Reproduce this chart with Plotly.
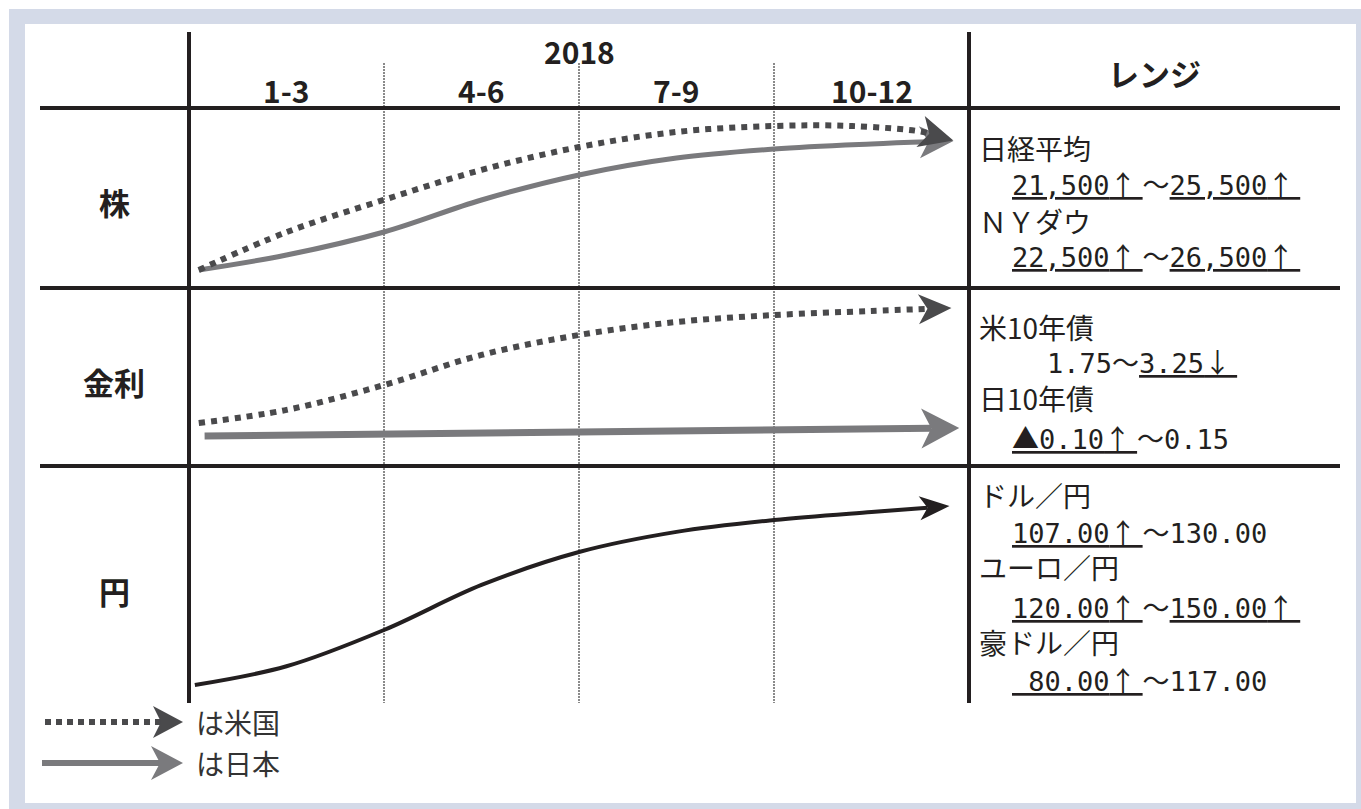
import plotly.graph_objects as go

W, H = 1361, 809

# ---------------- data ----------------
year = "2018"
quarters = ["1-3", "4-6", "7-9", "10-12"]
rows = ["株", "金利", "円"]
range_title = "レンジ"

# x = position in quarters of 2018 (0 = start of Jan, 4 = end of Dec)
# y = relative level inside each row (0 = bottom of row, 100 = top)
x_us_stock = [0.05, 0.5, 1.0, 1.5, 2.0, 2.5, 3.0, 3.4, 3.75, 3.92]
y_us_stock = [10, 31, 49, 65.6, 78.3, 86.7, 90, 90, 87, 82]

x_jp_stock = [0.05, 0.5, 1.0, 1.5, 2.0, 2.5, 3.0, 3.5, 3.92]
y_jp_stock = [10, 18.3, 31.1, 48.9, 62.8, 72.2, 77.2, 80, 81.7]

x_us_rate = [0.05, 0.5, 1.0, 1.5, 2.0, 2.5, 3.0, 3.5, 3.91]
y_us_rate = [24.2, 31.5, 45.5, 62.4, 73.6, 80.9, 84.8, 87.1, 88.8]

x_jp_rate = [0.08, 2.0, 3.95]
y_jp_rate = [16.9, 19.1, 21.3]

x_yen = [0.03, 0.5, 1.0, 1.5, 2.0, 2.5, 3.0, 3.5, 3.9]
y_yen = [7.6, 15.5, 30.8, 49.8, 63.7, 72.2, 77.2, 80.6, 83.1]

range_labels = ["日経平均", "ＮＹダウ", "米10年債", "日10年債",
                "ドル／円", "ユーロ／円", "豪ドル／円"]
range_values = [
    "<u>21,500↑\u00a0</u>～<u>25,500↑\u00a0</u>",
    "<u>22,500↑\u00a0</u>～<u>26,500↑\u00a0</u>",
    "1.75～<u>3.25↓\u00a0</u>",
    "<u>▲0.10↑\u00a0</u>～0.15",
    "<u>107.00↑\u00a0</u>～130.00",
    "<u>120.00↑\u00a0</u>～<u>150.00↑\u00a0</u>",
    "<u>\u00a080.00↑\u00a0</u>～117.00",
]
legend_labels = ["は米国", "は日本"]

# ---------------- layout geometry (pixels) ----------------
X0_PX, Q_PX = 189, 195          # pixel of x=0 and pixels per quarter
row_bounds = [(108, 288), (288, 466), (466, 703)]
INK = "#231f20"
US_COL = "#4a4a4c"
JP_COL = "#7a7a7d"


def xp(px):
    return px / W


def yp(py):
    return 1 - py / H


def to_px(x, y, r):
    top, bot = row_bounds[r]
    return X0_PX + Q_PX * x, bot - y / 100 * (bot - top)


def from_px(px, py, r):
    top, bot = row_bounds[r]
    return (px - X0_PX) / Q_PX, (bot - py) / (bot - top) * 100


fig = go.Figure()

ynames = ["y", "y2", "y3"]


def arrow_curve(xs, ys, r, color, width, dash, L, Hh, N):
    ax, ay = to_px(xs[-2], ys[-2], r)
    tx, ty = to_px(xs[-1], ys[-1], r)
    dx, dy = tx - ax, ty - ay
    n = (dx * dx + dy * dy) ** 0.5
    dx, dy = dx / n, dy / n
    nx, ny = -dy, dx
    ex, ey = from_px(tx - (L - N) * dx, ty - (L - N) * dy, r)
    lx = list(xs[:-1]) + [ex]
    ly = list(ys[:-1]) + [ey]
    fig.add_trace(go.Scatter(
        x=lx, y=ly, mode="lines", yaxis=ynames[r], hoverinfo="skip",
        line=dict(color=color, width=width, dash=dash, shape="spline",
                  smoothing=1.0),
        showlegend=False))
    pts = [
        (tx, ty),
        (tx - L * dx + Hh * nx, ty - L * dy + Hh * ny),
        (tx - (L - N) * dx, ty - (L - N) * dy),
        (tx - L * dx - Hh * nx, ty - L * dy - Hh * ny),
        (tx, ty),
    ]
    cx, cy = zip(*[from_px(p[0], p[1], r) for p in pts])
    fig.add_trace(go.Scatter(
        x=list(cx), y=list(cy), mode="lines", fill="toself",
        fillcolor=color, line=dict(width=0, color=color),
        yaxis=ynames[r], hoverinfo="skip", showlegend=False))


arrow_curve(x_jp_stock, y_jp_stock, 0, JP_COL, 5, None, 34, 16, 9)
arrow_curve(x_us_stock, y_us_stock, 0, US_COL, 6, "6px,6px", 34, 16, 9)
arrow_curve(x_us_rate, y_us_rate, 1, US_COL, 6, "6px,6px", 33, 15, 9)
arrow_curve(x_jp_rate, y_jp_rate, 1, JP_COL, 7, None, 38, 20, 10)
arrow_curve(x_yen, y_yen, 2, INK, 4, None, 30, 12, 8)

# ---------------- shapes ----------------
shapes = []
shapes.append(dict(type="rect", xref="paper", yref="paper", layer="below",
                   x0=xp(9), x1=xp(1361), y0=yp(809), y1=yp(9),
                   fillcolor="#d4dae8", line=dict(width=0)))
shapes.append(dict(type="rect", xref="paper", yref="paper", layer="below",
                   x0=xp(25), x1=xp(1356), y0=yp(803), y1=yp(24),
                   fillcolor="white", line=dict(width=0)))
for q in range(1, len(quarters)):
    shapes.append(dict(type="line", xref="x", yref="paper", layer="below",
                       x0=q, x1=q, y0=yp(63), y1=yp(703),
                       line=dict(color="#8a8a8a", width=2, dash="2px,1px")))
for q in (0, len(quarters)):
    shapes.append(dict(type="line", xref="x", yref="paper", layer="below",
                       x0=q, x1=q, y0=yp(32), y1=yp(703),
                       line=dict(color=INK, width=4)))
for py in (108, 288, 466):
    shapes.append(dict(type="line", xref="paper", yref="paper", layer="below",
                       x0=xp(40), x1=xp(1340), y0=yp(py), y1=yp(py),
                       line=dict(color=INK, width=4)))


def legend_arrow(py, x_start, color, width, dash, L, Hh, N, tip=183):
    shapes.append(dict(type="line", xref="paper", yref="paper",
                       x0=xp(x_start), x1=xp(tip - L + N), y0=yp(py), y1=yp(py),
                       line=dict(color=color, width=width, dash=dash)))
    path = "M {} {} L {} {} L {} {} L {} {} Z".format(
        xp(tip), yp(py), xp(tip - L), yp(py - Hh), xp(tip - L + N), yp(py),
        xp(tip - L), yp(py + Hh))
    shapes.append(dict(type="path", xref="paper", yref="paper", path=path,
                       fillcolor=color, line=dict(width=0)))


legend_arrow(722, 45, US_COL, 6, "6px,5px", 30, 16, 8)
legend_arrow(763, 42, JP_COL, 6, None, 32, 17, 9)

# ---------------- text ----------------
ann = []
HEAD = dict(family="Noto Sans CJK JP", size=30, color=INK, weight="bold")
ann.append(dict(text=year, x=2, xref="x", y=yp(51), yref="paper",
                showarrow=False, font=HEAD, xanchor="center", yanchor="middle"))
for i, q in enumerate(quarters):
    ann.append(dict(text=q, x=i + 0.5, xref="x", y=yp(90), yref="paper",
                    showarrow=False, font=HEAD, xanchor="center",
                    yanchor="middle"))
ann.append(dict(text=range_title, x=xp(1154), xref="paper", y=yp(72),
                yref="paper", showarrow=False,
                font=dict(family="Noto Sans CJK JP", size=31, color=INK,
                          weight="bold"),
                xanchor="center", yanchor="middle"))
for lab, py in zip(rows, (201, 382, 590)):
    ann.append(dict(text=lab, x=xp(114), xref="paper", y=yp(py), yref="paper",
                    showarrow=False,
                    font=dict(family="Noto Sans CJK JP", size=31, color=INK,
                              weight="bold"),
                    xanchor="center", yanchor="middle"))

label_y = [148, 221, 327, 398, 495, 567, 642]
value_y = [184, 255, 361, 437, 531, 606, 679]
value_x = [1010, 1010, 1045, 1010, 1010, 1010, 1010]
LAB = dict(family="Noto Sans CJK JP", size=28, color=INK)
VAL = dict(family="DejaVu Sans Mono, Noto Sans CJK JP", size=27, color=INK)
CJK_SPAN = "<span style=\"font-family:'Noto Sans CJK JP'\">{}</span>"


def styled(v):
    for ch in ("↑\u00a0", "↓\u00a0", "▲"):
        v = v.replace(ch, CJK_SPAN.format(ch))
    return v


for lab, py in zip(range_labels, label_y):
    ann.append(dict(text=lab, x=xp(977), xref="paper", y=yp(py), yref="paper",
                    showarrow=False, font=LAB, xanchor="left",
                    yanchor="middle"))
for val, px, py in zip(range_values, value_x, value_y):
    ann.append(dict(text=styled(val), x=xp(px), xref="paper", y=yp(py),
                    yref="paper", showarrow=False, font=VAL, xanchor="left",
                    yanchor="middle"))
for lab, py in zip(legend_labels, (722, 763)):
    ann.append(dict(text=lab, x=xp(194), xref="paper", y=yp(py), yref="paper",
                    showarrow=False,
                    font=dict(family="Noto Sans CJK JP", size=28,
                              color="#333333"),
                    xanchor="left", yanchor="middle"))

# ---------------- axes ----------------
axis_off = dict(visible=False, fixedrange=True, showgrid=False, zeroline=False)
layout = dict(
    width=W, height=H, margin=dict(l=0, r=0, t=0, b=0, pad=0),
    paper_bgcolor="white", plot_bgcolor="rgba(0,0,0,0)",
    showlegend=False, shapes=shapes, annotations=ann,
    xaxis=dict(range=[-X0_PX / Q_PX, (W - X0_PX) / Q_PX], domain=[0, 1],
               **axis_off),
)
for r, name in enumerate(["yaxis", "yaxis2", "yaxis3"]):
    top, bot = row_bounds[r]
    layout[name] = dict(range=[0, 100], domain=[yp(bot), yp(top)],
                        anchor="x", **axis_off)
fig.update_layout(**layout)

fig.write_html("out.html",
               config={"displayModeBar": False, "staticPlot": True},
               post_script="document.body.style.margin='0';"
                           "document.body.style.overflow='hidden';")
